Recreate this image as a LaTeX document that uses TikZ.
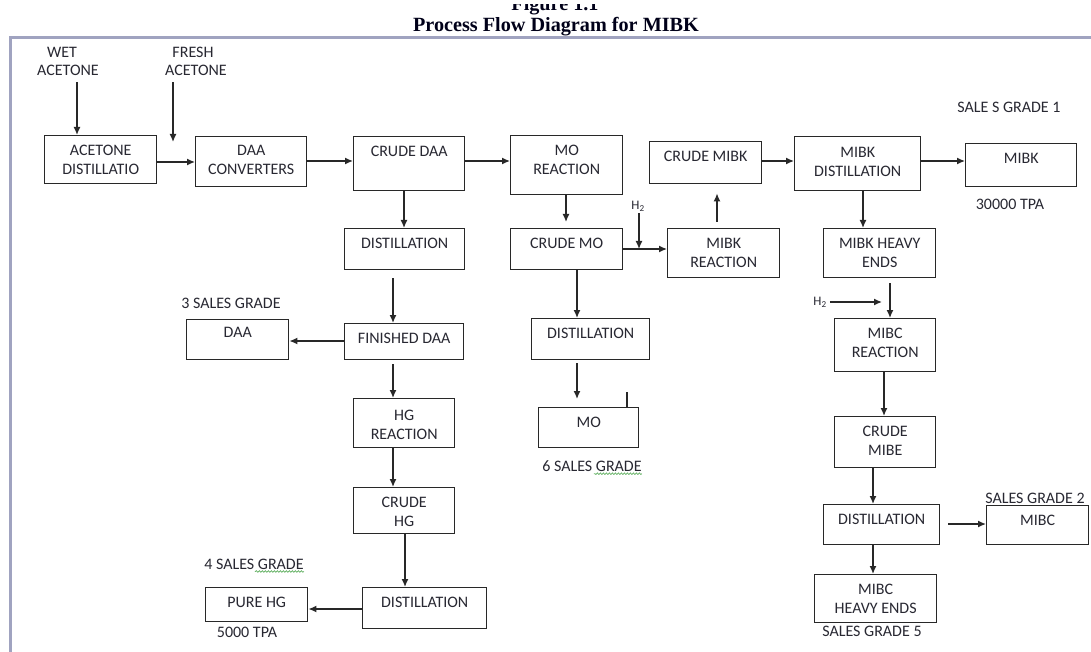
\documentclass[tikz,border=0pt]{standalone}
\usepackage{fontspec}
\setmainfont{Carlito}
\newfontfamily\titlefont{Liberation Serif}
\usetikzlibrary{arrows.meta,decorations.pathmorphing,calc}
\definecolor{txtc}{RGB}{40,40,50}
\definecolor{lnc}{RGB}{40,40,40}
\definecolor{framec}{RGB}{160,163,192}
\definecolor{squigc}{RGB}{95,175,95}
\newcommand\bt[4][9pt]{\parbox[t][#3][t]{#2}{\centering\vspace*{#1}#4\par}}
\tikzset{
  pbox/.style={draw=lnc, line width=1.4pt, inner sep=0pt, anchor=north west, text=txtc, font=\fontsize{16}{19}\selectfont},
  lbl/.style={text=txtc, font=\fontsize{16}{19}\selectfont, inner sep=0pt},
  hlbl/.style={text=txtc, font=\fontsize{13}{15}\selectfont, inner sep=0pt},
  arr/.style={draw=lnc, line width=1.4pt, -{Latex[length=8pt,width=7pt]}},
  squiggle/.style={draw=squigc, line width=0.7pt, decorate, decoration={snake, amplitude=0.8pt, segment length=3pt}},
  titlestyle/.style={inner sep=0pt, text=black!90!blue, font=\titlefont\bfseries\fontsize{20.2}{24}\selectfont}
}
\begin{document}
\begin{tikzpicture}[x=1pt,y=-1pt]
\useasboundingbox (0,0) rectangle (1091,652);
\fill[white] (0,0) rectangle (1091,652);

% title
\begin{scope}
\clip (400,5) rectangle (720,20);
\node[titlestyle, anchor=base] (fig) at (555,11) {Figure 1.1};
\end{scope}
\node[titlestyle, anchor=base] (title) at (556,32) {Process Flow Diagram for MIBK};

% frame
\draw[framec, line width=3pt] (10,652) -- (10,37.5) -- (1091,37.5);

% feed labels
\node[lbl] (wet1) at (62,52) {WET};
\node[lbl] (wet2) at (68,70) {ACETONE};
\node[lbl] (fr1) at (193,52) {FRESH};
\node[lbl] (fr2) at (196,70) {ACETONE};

% boxes
\node[pbox] (acd) at (44,135) {\bt{112pt}{48pt}{ACETONE\\DISTILLATIO}};
\node[pbox] (daac) at (195,136) {\bt{111pt}{50pt}{DAA\\CONVERTERS}};
\node[pbox] (cdaa) at (353,136) {\bt{111pt}{54pt}{CRUDE DAA}};
\node[pbox] (mor) at (510,135) {\bt{112pt}{59pt}{MO\\REACTION}};
\node[pbox] (dist1) at (344,228) {\bt{120pt}{41pt}{DISTILLATION}};
\node[pbox] (cmo) at (510,228) {\bt{112pt}{41pt}{CRUDE MO}};
\node[pbox] (mibkr) at (667,228) {\bt[9.7pt]{112pt}{49pt}{MIBK\\REACTION}};
\node[pbox] (cmibk) at (649,141) {\bt[9.7pt]{112pt}{42pt}{CRUDE MIBK}};
\node[pbox] (mibkd) at (794,136) {\bt[10.7pt]{126pt}{54pt}{MIBK\\DISTILLATION}};
\node[pbox] (mibk) at (965,143) {\bt[9.7pt]{111pt}{43pt}{MIBK}};
\node[pbox] (mhe) at (823,228) {\bt[9.7pt]{112pt}{49pt}{MIBK HEAVY\\ENDS}};
\node[pbox] (mibcr) at (834,318) {\bt[9.7pt]{101pt}{53pt}{MIBC\\REACTION}};
\node[pbox] (cmibe) at (834,416) {\bt{101pt}{51pt}{CRUDE\\MIBE}};
\node[pbox] (distc) at (823,504) {\bt[9.7pt]{116pt}{40pt}{DISTILLATION}};
\node[pbox] (mibc) at (986,505) {\bt{102pt}{39pt}{MIBC}};
\node[pbox] (mibche) at (814,574) {\bt[9.7pt]{122pt}{48pt}{MIBC\\HEAVY ENDS}};
\node[pbox] (fdaa) at (344,323) {\bt{119pt}{36pt}{FINISHED DAA}};
\node[pbox] (daa) at (186,319) {\bt[7.7pt]{102pt}{40pt}{DAA}};
\node[pbox] (hgr) at (353,398) {\bt[11.7pt]{101pt}{49pt}{HG\\REACTION}};
\node[pbox] (chg) at (353,487) {\bt{101pt}{46pt}{CRUDE\\HG}};
\node[pbox] (disthg) at (362,587) {\bt[9.7pt]{124pt}{41pt}{DISTILLATION}};
\node[pbox] (purehg) at (205,587) {\bt[9.7pt]{102pt}{34pt}{PURE HG}};
\node[pbox] (distmo) at (531,318) {\bt{118pt}{41pt}{DISTILLATION}};
\node[pbox] (mo) at (538,407) {\bt[9.7pt]{100pt}{40pt}{MO}};

% small tick on MO box
\draw[lnc, line width=2pt] (mo.north -| 627,0) -- ++(0,-15);

% side labels
\node[lbl] (sg1) at (1009,107) {SALE S GRADE 1};
\node[lbl] (tpa1) at (1010,204) {30000 TPA};
\node[lbl] (sg3) at (231,303) {3 SALES GRADE};
\node[lbl] (sg6) at (592,466) {6 SALES GRADE};
\node[lbl] (sg4) at (254,564) {4 SALES GRADE};
\node[lbl] (tpa2) at (247,632) {5000 TPA};
\node[lbl] (sg2) at (1035,498) {SALES GRADE 2};
\node[lbl] (sg5) at (872,631) {SALES GRADE 5};
\node[hlbl] (h2a) at (638,206) {H\textsubscript{2}};
\node[hlbl] (h2b) at (820,302) {H\textsubscript{2}};

% spell-check squiggles
\draw[squiggle] ($(sg6.south east)+(0,2)$) -- ($(sg6.south east)+(-48,2)$);
\draw[squiggle] ($(sg4.south east)+(0,2)$) -- ($(sg4.south east)+(-49,2)$);

% connectors
\coordinate (freshend) at (173,142);
\coordinate (j1) at (639,249);
\coordinate (j2) at (882,302);
\draw[arr, shorten <=7pt] (wet2.south -| 77,0) -- (acd.north -| 77,0);
\draw[arr, shorten <=7pt] (fr2.south -| 173,0) -- (freshend);
\draw[arr] (acd.east |- 0,162) -- (daac.west |- 0,162);
\draw[arr] (daac.east |- 0,161) -- (cdaa.west |- 0,161);
\draw[arr] (cdaa.east |- 0,161) -- (mor.west |- 0,161);
\draw[arr] (cdaa.south -| 404,0) -- (dist1.north -| 404,0);
\draw[arr, shorten <=8pt] (dist1.south -| 393,0) -- (fdaa.north -| 393,0);
\draw[arr] (fdaa.west |- 0,341) -- (daa.east |- 0,341);
\draw[arr, shorten <=4pt] (fdaa.south -| 393,0) -- (hgr.north -| 393,0);
\draw[arr] (hgr.south -| 393,0) -- (chg.north -| 393,0);
\draw[arr] (chg.south -| 405,0) -- (disthg.north -| 405,0);
\draw[arr] (disthg.west |- 0,609) -- (purehg.east |- 0,609);
\draw[arr, shorten >=6pt] (mor.south -| 566,0) -- (cmo.north -| 566,0);
\draw[arr] (cmo.south -| 577,0) -- (distmo.north -| 577,0);
\draw[arr, shorten <=3pt, shorten >=8pt] (distmo.south -| 577,0) -- (mo.north -| 577,0);
\draw[arr] (cmo.east |- 0,249) -- (mibkr.west |- 0,249);
\draw[arr, shorten <=2pt] (h2a.south -| 639,0) -- (j1);
\draw[arr, shorten <=6pt, shorten >=9pt] (mibkr.north -| 717,0) -- (cmibk.south -| 717,0);
\draw[arr] (cmibk.east |- 0,161) -- (mibkd.west |- 0,161);
\draw[arr] (mibkd.east |- 0,161) -- (mibk.west |- 0,161);
\draw[arr] (mibkd.south -| 863,0) -- (mhe.north -| 863,0);
\draw[arr, shorten <=5pt] (mhe.south -| 890,0) -- (mibcr.north -| 890,0);
\draw[arr, shorten <=3pt] (h2b.east |- 0,302) -- (j2);
\draw[arr] (mibcr.south -| 884,0) -- (cmibe.north -| 884,0);
\draw[arr] (cmibe.south -| 873,0) -- (distc.north -| 873,0);
\draw[arr, shorten <=8pt] (distc.east |- 0,524) -- (mibc.west |- 0,524);
\draw[arr] (distc.south -| 873,0) -- (mibche.north -| 873,0);
\end{tikzpicture}
\end{document}
